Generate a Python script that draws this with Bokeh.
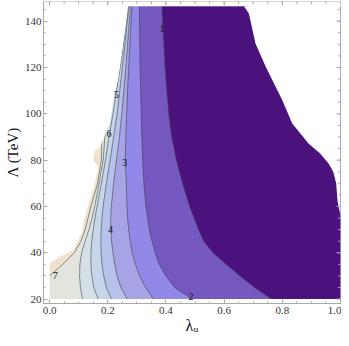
import math
from bokeh.plotting import figure
from bokeh.models import LinearAxis, Range1d, FixedTicker, PrintfTickFormatter
from bokeh.embed import file_html
from bokeh.resources import INLINE

# common Lambda grid (TeV) on which contour positions were read
Y = [20, 25, 30, 35, 40, 45, 50, 55, 60, 70, 80, 90, 100, 110, 120, 130, 140, 146.5]

# contour lines: lambda_u position at each Y (from right/low value to left/high value)
C1 = [0.763, 0.705, 0.655, 0.607, 0.562, 0.530, 0.512, 0.497, 0.482, 0.457, 0.436, 0.420, 0.410, 0.403, 0.397, 0.393, 0.389, 0.386]
C2 = [0.490, 0.430, 0.400, 0.377, 0.363, 0.352, 0.343, 0.337, 0.331, 0.324, 0.320, 0.317, 0.315, 0.313, 0.311, 0.310, 0.309, 0.309]
C3 = [0.357, 0.330, 0.310, 0.295, 0.284, 0.277, 0.272, 0.268, 0.266, 0.264, 0.260, 0.262, 0.265, 0.268, 0.272, 0.276, 0.280, 0.283]
C4 = [0.267, 0.245, 0.232, 0.224, 0.218, 0.213, 0.210, 0.210, 0.212, 0.220, 0.230, 0.240, 0.248, 0.255, 0.262, 0.268, 0.274, 0.278]
C5 = [0.213, 0.195, 0.186, 0.180, 0.177, 0.176, 0.177, 0.180, 0.184, 0.195, 0.208, 0.220, 0.232, 0.241, 0.250, 0.259, 0.267, 0.273]
C6 = [0.167, 0.152, 0.145, 0.142, 0.142, 0.145, 0.150, 0.156, 0.163, 0.178, 0.192, 0.204, 0.218, 0.230, 0.243, 0.254, 0.264, 0.270]
C7 = [0.113, 0.106, 0.103, 0.104, 0.110, 0.122, 0.135, 0.146, 0.155, 0.170, 0.184, 0.190, 0.200, 0.210, 0.220, 0.230, 0.240, 0.250]
C8 = [-0.05, -0.05, 0.000, 0.045, 0.085, 0.108, 0.122, 0.132, 0.142, 0.165, 0.178, 0.180, 0.190, 0.200, 0.210, 0.220, 0.230, 0.240]
CONTOURS = [C8, C7, C6, C5, C4, C3, C2, C1]

# band colours, from the high-value (left) region to the low-value (right) region
BANDS = ["#EEE2CD", "#E2E5DE", "#D3E0E6", "#C6D5EA", "#B6C2EA", "#A6A4E4", "#9288E8", "#7557C0", "#4B127E"]

# left edge of the computed region
EDGE_X = [0.0, 0.0, 0.036, 0.081, 0.110, 0.121, 0.156, 0.167, 0.150, 0.156, 0.173, 0.207, 0.224, 0.235, 0.258, 0.270]
EDGE_Y = [20, 35.5, 38.3, 41.1, 48.5, 55.5, 70, 77, 80, 84.3, 85.6, 96, 109, 114.5, 134.8, 146.5]
# right edge of the computed region
RIGHT_X = [0.668, 0.685, 0.708, 0.743, 0.800, 0.834, 0.890, 0.930, 0.959, 0.975, 0.985, 0.990, 1.000, 1.000]
RIGHT_Y = [146.5, 143.3, 130.3, 120.3, 105.9, 95.8, 87.2, 82.9, 78.6, 75.0, 70.0, 62.0, 56.0, 20.0]

# contour labels
LAB_T = ["1", "2", "3", "4", "5", "6", "7"]
LAB_X = [0.386, 0.486, 0.258, 0.209, 0.230, 0.204, 0.019]
LAB_Y = [137.0, 21.0, 79.0, 50.0, 108.5, 91.5, 30.4]

X_TICKS = [0.0, 0.2, 0.4, 0.6, 0.8, 1.0]
X_MINOR = [round(i * 0.05, 2) for i in range(21)]
Y_TICKS = [20, 40, 60, 80, 100, 120, 140]
Y_MINOR = list(range(20, 150, 5))

X_LO, X_HI = -0.021, 1.0
Y_LO, Y_HI = 18.1, 148.5
Y0, Y1 = Y[0], Y[-1]
FONT = "Liberation Serif"
FRAME = "#a9a9a9"

p = figure(width=341, height=338, output_backend="svg", toolbar_location=None,
           x_range=Range1d(X_LO, X_HI), y_range=Range1d(Y_LO, Y_HI),
           x_axis_location=None, y_axis_location=None,
           min_border_left=43, min_border_right=1, min_border_top=1, min_border_bottom=35)
p.outline_line_color = FRAME
p.xgrid.visible = False
p.ygrid.visible = False

# base (highest band)
p.patch([-0.05, 1.05, 1.05, -0.05], [Y0, Y0, Y1, Y1], fill_color=BANDS[0], line_color=None)
for c, col in zip(CONTOURS, BANDS[1:]):
    p.patch(c + [1.05, 1.05], Y + [Y1, Y0], fill_color=col, line_color=None)
for c in CONTOURS:
    p.line(c, Y, line_color="#3a3a3a", line_alpha=0.55, line_width=1)

# white masks outside the computed region
p.patch(EDGE_X + [-0.05, -0.05], EDGE_Y + [Y1 + 1, Y0 - 1], fill_color="white", line_color=None)
p.patch(RIGHT_X + [1.05, 1.05], RIGHT_Y + [Y0 - 1, Y1 + 1], fill_color="white", line_color=None)
p.patch([-0.05, 1.05, 1.05, -0.05], [Y1, Y1, Y1 + 5, Y1 + 5], fill_color="white", line_color=None)
p.patch([-0.05, 1.05, 1.05, -0.05], [Y0 - 5, Y0 - 5, Y0, Y0], fill_color="white", line_color=None)

p.text(LAB_X, LAB_Y, text=LAB_T, text_align="center", text_baseline="middle",
       text_font_size="10px", text_color="#111111", text_font=FONT)

# inward ticks on the top and right frame edges (half of each dash is clipped by the frame)
p.scatter(X_MINOR, [Y_HI] * len(X_MINOR), marker="dash", size=5, angle=math.pi / 2, line_color=FRAME)
p.scatter(X_TICKS, [Y_HI] * len(X_TICKS), marker="dash", size=8, angle=math.pi / 2, line_color=FRAME)
p.scatter([X_HI] * len(Y_MINOR), Y_MINOR, marker="dash", size=5, line_color=FRAME)
p.scatter([X_HI] * len(Y_TICKS), Y_TICKS, marker="dash", size=8, line_color=FRAME)

def style(ax):
    ax.axis_line_color = FRAME
    ax.major_tick_line_color = FRAME
    ax.minor_tick_line_color = FRAME
    ax.major_tick_in = 4
    ax.major_tick_out = 0
    ax.minor_tick_in = 2
    ax.minor_tick_out = 0
    ax.major_label_text_font = FONT
    ax.major_label_text_font_size = "11px"
    ax.major_label_text_color = "#333333"
    ax.axis_label_text_font = FONT
    ax.axis_label_text_font_style = "normal"
    ax.axis_label_text_color = "#111111"

xb = LinearAxis(ticker=FixedTicker(ticks=X_TICKS, minor_ticks=X_MINOR),
                formatter=PrintfTickFormatter(format="%.1f"))
style(xb)
xb.major_label_standoff = 3
xb.axis_label = "λᵤ"
xb.axis_label_text_font_size = "16px"
xb.axis_label_standoff = 0
p.add_layout(xb, "below")

yl = LinearAxis(ticker=FixedTicker(ticks=Y_TICKS, minor_ticks=Y_MINOR))
style(yl)
yl.major_label_standoff = 2
yl.axis_label = "Λ (TeV)"
yl.axis_label_text_font_size = "15px"
yl.axis_label_standoff = 1
p.add_layout(yl, "left")

open("out.html", "w").write(file_html(p, INLINE))
